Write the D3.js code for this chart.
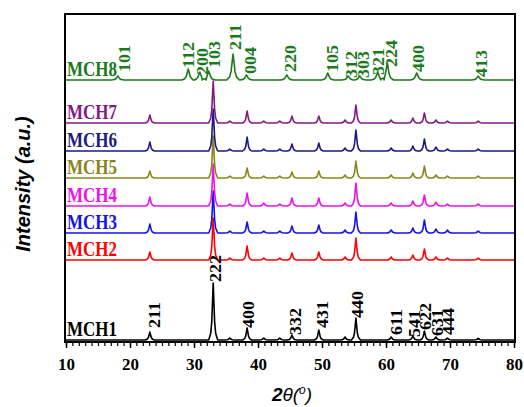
<!DOCTYPE html>
<html>
<head>
<meta charset="utf-8">
<script src="https://cdn.jsdelivr.net/npm/d3@7"></script>
<style>
body { margin: 0; background: #fff; }
</style>
</head>
<body>
<div id="chart"></div>
<script>
// ---- data ----
var thetaTicks = [10, 20, 30, 40, 50, 60, 70, 80];
var seriesNames = ['MCH1', 'MCH2', 'MCH3', 'MCH4', 'MCH5', 'MCH6', 'MCH7', 'MCH8'];
var seriesColors = ['#000000', '#ff0000', '#1414e6', '#ee10ee', '#86861a', '#1a1a80', '#841a84', '#1a7a1a'];
var seriesOffsets = [2, 82, 109, 136, 164, 191, 219, 262];
var seriesFwhm = [0.32, 0.32, 0.32, 0.32, 0.32, 0.32, 0.32, 0.45];

// cubic (bixbyite) reflections, shared by MCH1..MCH7
var cubicPeaks = [23.1, 33.0, 35.6, 38.3, 40.9, 43.4, 45.3, 49.5, 53.6, 55.3, 60.8, 64.2, 66.0, 67.8, 69.6, 74.4];
var mch1Heights = [8, 57, 2, 12, 2, 2, 5, 10, 3, 22, 3, 4, 9, 3, 2, 1.5];
var mch2Heights = [8, 42, 2, 14, 2, 2, 7, 8, 3, 22, 3, 5, 11, 3, 2, 2];
var mch3Heights = [9, 42, 2, 11, 2, 2, 7, 8, 3, 21, 3, 5, 13, 4, 3, 2];
var mch4Heights = [9, 42, 2, 13, 3, 2, 8, 8, 3, 23, 3, 5, 11, 4, 2, 2];
var mch5Heights = [7, 42, 2, 10, 2, 2, 6, 7, 3, 17, 3, 5, 12, 3, 2, 2];
var mch6Heights = [9, 42, 2, 14, 2, 2, 7, 8, 3, 21, 3, 5, 12, 4, 2, 2];
var mch7Heights = [8, 42, 2, 12, 2, 2, 7, 7, 3, 18, 3, 5, 10, 3, 2, 2];

// tetragonal (hausmannite) reflections, MCH8
var hexPeaks = [18.1, 29.1, 30.9, 32.3, 36.1, 38.2, 44.5, 50.9, 54.1, 55.9, 58.7, 60.2, 64.8, 74.4];
var mch8Heights = [4, 11, 8, 9, 26, 5, 5, 7, 4, 4, 8, 17, 7, 4];

// hkl annotations: text, 2theta, intensity level of the label foot
var cubicLabels = ['211', '222', '400', '332', '431', '440', '611', '541', '622', '631', '444'];
var cubicLabelTheta = [23.75, 33.3, 38.45, 45.8, 50.0, 55.6, 61.7, 64.5, 66.1, 68.1, 69.8];
var cubicLabelLevel = [14, 60, 14, 7, 14, 24, 7, 5, 12, 6, 7];

var hexLabels = ['101', '112', '200', '103', '211', '004', '220', '105', '312', '303', '321', '224', '400', '413'];
var hexLabelTheta = [19.2, 29.06, 31.25, 33.2, 36.4, 38.75, 45.0, 51.6, 54.6, 56.4, 58.75, 60.9, 65.0, 74.84];
var hexLabelLevel = [270, 274, 267, 274, 292, 268, 270, 270, 264, 264, 267, 275, 270, 265];

var seriesHeights = [mch1Heights, mch2Heights, mch3Heights, mch4Heights, mch5Heights, mch6Heights, mch7Heights, mch8Heights];
var seriesPeaks = [cubicPeaks, cubicPeaks, cubicPeaks, cubicPeaks, cubicPeaks, cubicPeaks, cubicPeaks, hexPeaks];

// ---- layout ----
var width = 524;
var height = 407;
var plot = { left: 65, right: 515, top: 14, bottom: 342 };

var x = d3.scaleLinear().domain([10, 80]).range([plot.left + 1, plot.right - 1]);
var y = d3.scaleLinear().domain([0, 328]).range([plot.bottom, plot.top]);

var svg = d3.select('#chart')
    .append('svg')
    .attr('width', width)
    .attr('height', height);

// peak shape: offsets in units of fwhm and fraction of peak height
var shapeSteps = [-2.2, -1.2, -0.7, -0.35, 0, 0.35, 0.7, 1.2, 2.2];
var shapeFrac  = [0, 0.12, 0.32, 0.66, 1, 0.66, 0.32, 0.12, 0];

function build_points(peaks, heights, fwhm) {
    var pts = [[10, 0], [80, 0]];
    peaks.forEach(function(p, i) {
        shapeSteps.forEach(function(s, k) {
            pts.push([p + s * fwhm, heights[i] * shapeFrac[k]]);
        });
    });
    pts.sort(function(a, b) { return a[0] - b[0]; });
    return pts;
}

var line = d3.line()
    .x(function(d) { return x(d[0]); })
    .y(function(d) { return d[1]; });

var curves = svg.append('g').attr('id', 'curves');

seriesNames.forEach(function(name, i) {
    var pts = build_points(seriesPeaks[i], seriesHeights[i], seriesFwhm[i]);
    curves.append('path')
        .attr('d', line(pts.map(function(d) { return [d[0], y(d[1] + seriesOffsets[i])]; })))
        .attr('fill', 'none')
        .attr('stroke', seriesColors[i])
        .attr('stroke-width', 1.6)
        .attr('stroke-linejoin', 'round');
});

// series names
seriesNames.forEach(function(name, i) {
    svg.append('text')
        .attr('transform', `translate(${plot.left + 2}, ${y(seriesOffsets[i]) - 4}) scale(1, 1.2)`)
        .style('font-family', '"Liberation Serif", "Times New Roman", serif')
        .style('font-weight', 700)
        .style('font-size', '17px')
        .attr('fill', seriesColors[i])
        .text(name);
});

// hkl labels
function add_labels(labels, thetas, levels, color) {
    labels.forEach(function(t, i) {
        svg.append('text')
            .attr('transform', `translate(${x(thetas[i])}, ${y(levels[i])}) rotate(-90) scale(1.12, 1)`)
            .attr('dy', '0.35em')
            .style('font-family', '"Liberation Serif", "Times New Roman", serif')
            .style('font-weight', 700)
            .style('font-size', '16px')
            .attr('fill', color)
            .text(t);
    });
}
add_labels(cubicLabels, cubicLabelTheta, cubicLabelLevel, '#000');
add_labels(hexLabels, hexLabelTheta, hexLabelLevel, seriesColors[7]);

// frame
svg.append('rect')
    .attr('x', plot.left)
    .attr('y', plot.top)
    .attr('width', plot.right - plot.left)
    .attr('height', plot.bottom - plot.top)
    .attr('fill', 'none')
    .attr('stroke', '#000')
    .attr('stroke-width', 2);

// minor ticks every degree
var minor = svg.append('g')
    .attr('transform', `translate(0, ${plot.bottom})`)
    .call(d3.axisBottom(x).tickValues(d3.range(10, 81, 1)).tickSize(4).tickFormat(''));
minor.select('.domain').remove();
minor.selectAll('line').attr('stroke-width', 1.2);

var major = svg.append('g')
    .attr('transform', `translate(0, ${plot.bottom})`)
    .call(d3.axisBottom(x).tickValues(thetaTicks).tickSize(6).tickPadding(10).tickFormat(d3.format('d')));
major.select('.domain').remove();
major.selectAll('line').attr('stroke-width', 1.5);
major.selectAll('text')
    .style('font-family', '"Liberation Serif", "Times New Roman", serif')
    .style('font-weight', 700)
    .style('font-size', '17px')
    .attr('fill', '#000');

// axis titles
var xt = svg.append('text')
    .attr('x', 292)
    .attr('y', 401)
    .attr('text-anchor', 'middle')
    .style('font-family', '"Liberation Sans", Arial, sans-serif')
    .style('font-weight', 700)
    .style('font-style', 'italic')
    .style('font-size', '19px');
xt.append('tspan').text('2');
xt.append('tspan').style('font-weight', 400).text('θ(');
xt.append('tspan').attr('dy', -7).style('font-size', '12px').style('font-weight', 400).text('o');
xt.append('tspan').attr('dy', 7).style('font-weight', 400).text(')');

svg.append('text')
    .attr('transform', 'translate(30, 184) rotate(-90)')
    .attr('text-anchor', 'middle')
    .style('font-family', '"Liberation Sans", Arial, sans-serif')
    .style('font-weight', 700)
    .style('font-style', 'italic')
    .style('font-size', '20px')
    .text('Intensity (a.u.)');
</script>
</body>
</html>
